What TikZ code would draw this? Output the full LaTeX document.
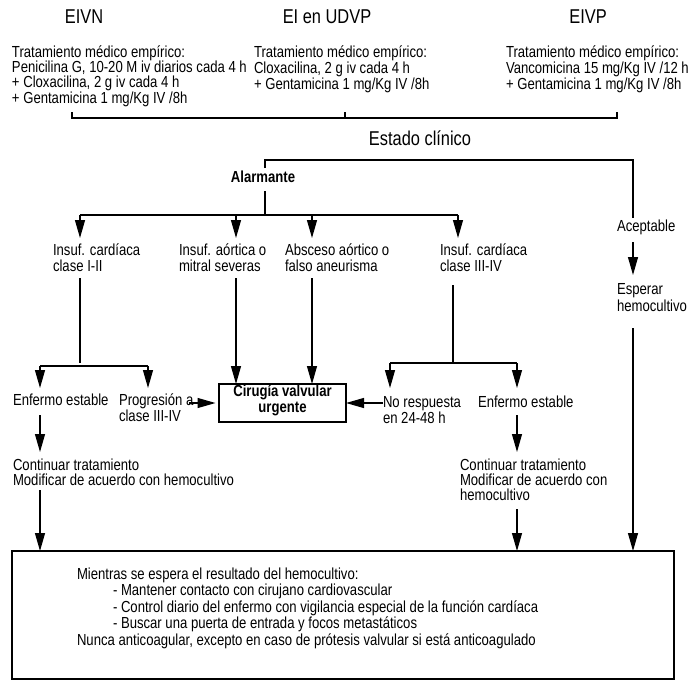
\documentclass[tikz,border=0pt]{standalone}
\usepackage{fontspec}
\setmainfont{Liberation Sans}[FakeStretch=0.82]
\usetikzlibrary{arrows.meta}
\begin{document}
\begin{tikzpicture}[x=1pt,y=-1pt,
  every node/.style={inner sep=0pt,outer sep=0pt},
  line/.style={line width=1.2pt},
  arr/.style={line width=1.2pt,-{Triangle[length=18pt,width=10pt]}},
  head/.style={font=\fontsize{20}{24}\selectfont},
  treat/.style={font=\fontsize{16}{14.5}\selectfont,align=left,anchor=west},
  lbl/.style={font=\fontsize{16}{16}\selectfont,align=left,anchor=west},
  cont/.style={font=\fontsize{16}{15}\selectfont,align=left,anchor=west},
  boldlbl/.style={font=\fontsize{16}{16}\selectfont\bfseries,align=center},
  frame/.style={draw,line width=1.2pt}]
\useasboundingbox (0,0) rectangle (692,680);

% headings
\node[head] (hA) at (84,17) {EIVN};
\node[head] (hB) at (327,17) {EI en UDVP};
\node[head] (hC) at (588,17) {EIVP};

% empirical treatments
\node[treat] (tA) at (12,76) {Tratamiento médico empírico:\\Penicilina G, 10-20 M iv diarios cada 4 h\\+ Cloxacilina, 2 g iv cada 4 h\\+ Gentamicina 1 mg/Kg IV /8h};
\node[treat] (tB) at (254,69) {Tratamiento médico empírico:\\Cloxacilina, 2 g iv cada 4 h\\+ Gentamicina 1 mg/Kg IV /8h};
\node[treat] (tC) at (506,69) {Tratamiento médico empírico:\\Vancomicina 15 mg/Kg IV /12 h\\+ Gentamicina 1 mg/Kg IV /8h};

% bracket joining the three groups
\coordinate (kA) at (72,112);
\coordinate (kB) at (345,112);
\coordinate (kC) at (617,112);
\coordinate (kL) at (72,118);
\draw[line] (kA) |- (kC |- kL) -- (kC);
\draw[line] (kB) -- (kB |- kL);

\node[head] (est) at (420,138) {Estado clínico};

% clinical state split
\node[boldlbl] (alm) at (263,177) {Alarmante};
\node[lbl] (acc) at (617,227) {Aceptable};
\coordinate (aTop) at (265,168);
\coordinate (sR) at (633,160);
\coordinate (accTop) at (633,218);
\draw[line] (aTop) |- (sR) -- (accTop);

\node[font=\fontsize{16}{17}\selectfont,align=left,anchor=west] (esp) at (617,298) {Esperar\\hemocultivo};
\draw[arr] (633,242) -- (633,275);

% alarming branch
\coordinate (aBot) at (265,191);
\coordinate (hJ) at (265,215);
\draw[line] (aBot) -- (hJ);
\draw[line] (80,215) -- (458,215);
\draw[arr] (80,215) -- (80,238);
\draw[arr] (236,215) -- (236,238);
\draw[arr] (312,215) -- (312,238);
\draw[arr] (458,215) -- (458,238);

\node[lbl] (l1) at (53,258) {Insuf. cardíaca\\clase I-II};
\node[lbl] (l2) at (179,258) {Insuf. aórtica o\\mitral severas};
\node[lbl] (l3) at (285,258) {Absceso aórtico o\\falso aneurisma};
\node[lbl] (l4) at (440,258) {Insuf. cardíaca\\clase III-IV};

% urgent surgery
\node[frame,minimum width=127pt,minimum height=38pt] (cir) at (282.5,403) {};
\node[boldlbl] (cirT) at (282.5,400) {Cirugía valvular\\urgente};

\draw[arr] (236,278) -- (236,0 |- cir.north);
\draw[arr] (312,278) -- (312,0 |- cir.north);

% class I-II
\draw[line] (80,278) -- (80,363);
\draw[line] (40,366) -- (148,366);
\draw[arr] (40,366) -- (40,388);
\draw[arr] (148,366) -- (148,388);

\node[lbl] (e1) at (13,400) {Enfermo estable};
\node[lbl] (p1) at (119,408) {Progresión a\\clase III-IV};
\draw[arr,shorten >=3.5pt] (189,403) -- (cir.west);

% class III-IV
\draw[line] (453,285) -- (453,363);
\draw[line] (390,363) -- (517,363);
\draw[arr] (390,363) -- (390,388);
\draw[arr] (517,363) -- (517,388);

\node[lbl] (n1) at (383,410) {No respuesta\\en 24-48 h};
\node[lbl] (e2) at (478,402) {Enfermo estable};
\draw[arr] (n1.west |- cir.east) -- (cir.east);

% continue treatment
\draw[arr] (40,415) -- (40,452);
\draw[arr] (517,415) -- (517,452);
\node[cont] (c1) at (13,472.5) {Continuar tratamiento\\Modificar de acuerdo con hemocultivo};
\node[cont] (c2) at (460,480) {Continuar tratamiento\\Modificar de acuerdo con\\hemocultivo};

% closing box
\node[frame,anchor=north west,minimum width=662pt,minimum height=128pt] (fin) at (12,551) {};
\draw[arr] (40,490) -- (40,0 |- fin.north);
\draw[arr] (517,509) -- (517,0 |- fin.north);
\draw[arr] (633,328) -- (633,0 |- fin.north);

\node[font=\fontsize{16}{16.5}\selectfont,align=left,anchor=west] (rec) at (77,608) {Mientras se espera el resultado del hemocultivo:\\
\hspace*{36pt}- Mantener contacto con cirujano cardiovascular\\
\hspace*{36pt}- Control diario del enfermo con vigilancia especial de la función cardíaca\\
\hspace*{36pt}- Buscar una puerta de entrada y focos metastáticos\\
Nunca anticoagular, excepto en caso de prótesis valvular si está anticoagulado};
\end{tikzpicture}
\end{document}
